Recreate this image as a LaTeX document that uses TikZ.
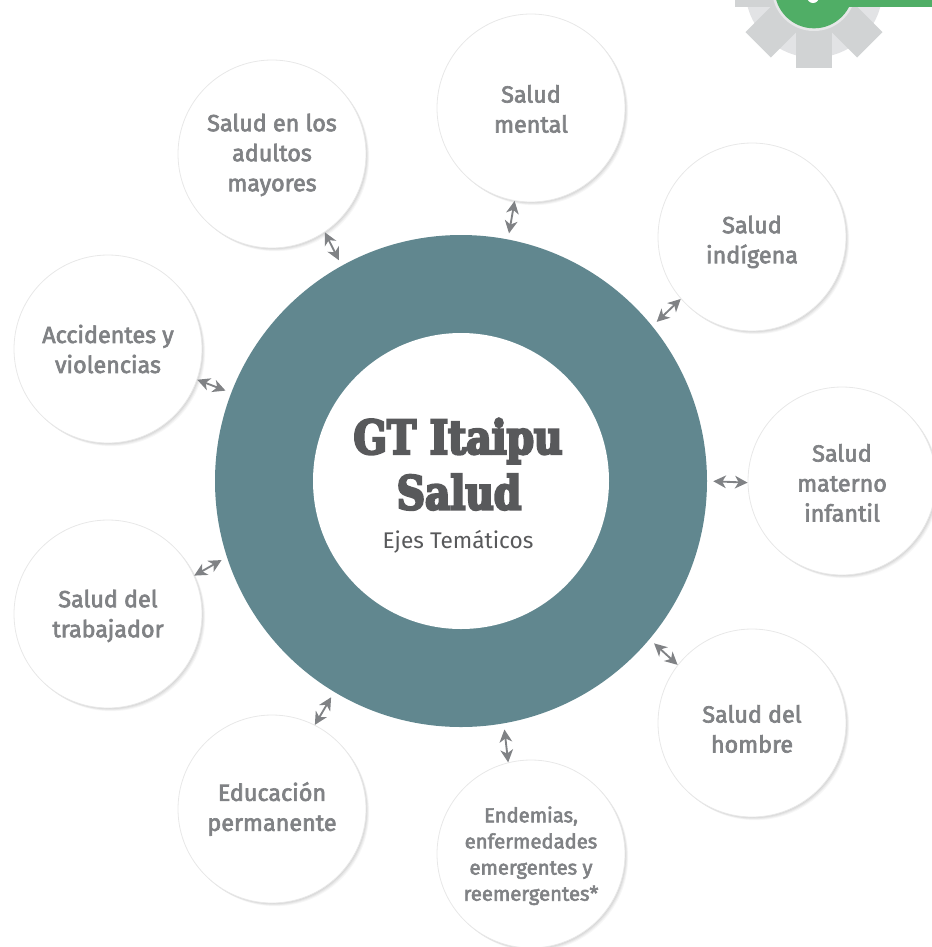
\documentclass[tikz,border=0pt]{standalone}
\usepackage{fontspec}
\usetikzlibrary{arrows.meta,shadows}
\setmainfont{Fira Sans}
\newfontfamily\labelfont[FakeBold=2.8]{Fira Sans}
\newfontfamily\titlefont[FakeStretch=0.84,FakeBold=5]{DejaVu Serif}
\newcommand\dn[1]{\rule{0pt}{#1pt}}
\definecolor{ringc}{HTML}{61878F}
\definecolor{labelc}{HTML}{808285}
\definecolor{titlec}{HTML}{58595B}
\definecolor{gearlight}{HTML}{E2E3E5}
\definecolor{geardark}{HTML}{D1D3D4}
\definecolor{gearrim}{HTML}{E6E7E8}
\definecolor{greenc}{HTML}{50AE66}
\definecolor{edgec}{HTML}{E8E8E8}
\definecolor{arrowc}{HTML}{808285}
\tikzset{
  x=0.75pt,y=-0.75pt,
  topic/.style={circle,minimum size=141pt,inner sep=0pt,draw=edgec,line width=0.6pt,fill=white,
    align=center,text=labelc,
    font=\labelfont\fontsize{17.5}{22.5}\selectfont,
    general shadow={shadow xshift=0.6pt,shadow yshift=-0.6pt,fill=black,opacity=0.05},
    general shadow={shadow xshift=1.2pt,shadow yshift=-1.2pt,fill=black,opacity=0.05},
    general shadow={shadow xshift=1.8pt,shadow yshift=-1.8pt,fill=black,opacity=0.04},
    general shadow={shadow xshift=2.4pt,shadow yshift=-2.4pt,fill=black,opacity=0.03}},
  smalltopic/.style={topic,font=\labelfont\fontsize{15.2}{19.6}\selectfont},
  ring/.style={circle,minimum size=369pt,inner sep=0pt,fill=ringc},
  hole/.style={circle,minimum size=222pt,inner sep=0pt,fill=white},
  maintitle/.style={inner sep=0pt,text=titlec,font=\titlefont\fontsize{35}{40}\selectfont\bfseries},
  subtitle/.style={inner sep=0pt,text=titlec,font=\fontsize{17}{20}\selectfont},
  conn/.style={draw=arrowc,line width=1.4pt,{Stealth[length=9.5pt,width=9.5pt,inset=2.8pt]}-{Stealth[length=9.5pt,width=9.5pt,inset=2.8pt]},shorten <=4.5pt},
  tooth/.style={fill=geardark}
}
\begin{document}
\begin{tikzpicture}
\useasboundingbox (0,0) rectangle (932,947);
\clip (0,0) rectangle (932,947);
% gear
\fill[gearlight] (814,-11) circle[radius=51.5pt];
\foreach \a in {0,-45,-90,-135,-180}{
  \fill[tooth,shift={(814,-11)},rotate=\a] (0,-18) rectangle (79,18);
}
\fill[gearrim] (814,-11) circle[radius=31.5pt];
\fill[greenc] (814,-11) circle[radius=29.5pt];
\fill[greenc] (840,-20) rectangle (932,7);
\fill[white] (813,-3) circle[radius=4.5pt];
% hub
\node[ring] (outer) at (461,481) {};
\node[hole] (inner) at (461,481) {};
\node[maintitle] (t1) at (458,441) {GT Itaipu};
\node[maintitle] (t2) at (459,492) {Salud};
\node[subtitle] (t3) at (458,542) {Ejes Temáticos};
% topics
\node[topic] (mental) at (531,108) {\dn{14.5}Salud\\mental};
\node[topic] (adultos) at (272,154) {\dn{14.5}Salud en los\\adultos\\mayores};
\node[topic] (indigena) at (752,237) {\dn{20.5}Salud\\indígena};
\node[topic] (accid) at (108,349) {Accidentes y\\violencias};
\node[topic] (materno) at (842,481) {\dn{16}Salud\\materno\\infantil};
\node[topic] (trab) at (108,614) {\dn{16}Salud del\\trabajador};
\node[topic] (hombre) at (752,723) {\dn{22}Salud del\\hombre};
\node[topic] (educ) at (272,809) {Educación\\permanente};
\node[smalltopic] (endem) at (531,854) {\dn{14.5}Endemias,\\enfermedades\\emergentes y\\reemergentes*};
% connectors
\draw[conn] (outer.79.3) -- (mental.260);
\draw[conn] (outer.119) -- (adultos.-56.6);
\draw[conn] (outer.39.6) -- (indigena.221.5);
\draw[conn] (outer.0.5) -- (materno.181.2);
\draw[conn] (outer.159) -- (accid.-19);
\draw[conn] (outer.198.6) -- (trab.24.9);
\draw[conn] (outer.239) -- (educ.63.2);
\draw[conn] (outer.-80.6) -- (endem.104.8);
\draw[conn] (outer.-40.4) -- (hombre.142.5);
\end{tikzpicture}
\end{document}
